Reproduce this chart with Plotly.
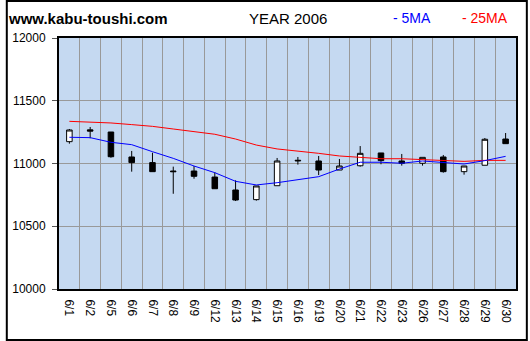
import plotly.graph_objects as go

dates = ["6/1", "6/2", "6/5", "6/6", "6/7", "6/8", "6/9", "6/12", "6/13", "6/14", "6/15",
         "6/16", "6/19", "6/20", "6/21", "6/22", "6/23", "6/26", "6/27", "6/28", "6/29", "6/30"]
opens = [11174, 11268, 11251, 11052, 11007, 10940, 10940, 10892, 10789, 10712, 10823,
         11020, 11020, 10948, 10982, 11084, 11020, 11002, 11052, 10935, 10986, 11195]
highs = [11275, 11291, 11251, 11100, 11086, 10975, 10980, 10930, 10866, 10821, 11044,
         11052, 11060, 11036, 11139, 11084, 11076, 11049, 11068, 10980, 11203, 11243]
lows = [11158, 11201, 11046, 10935, 10935, 10759, 10879, 10799, 10701, 10704, 10823,
        10991, 10908, 10948, 10975, 10994, 10983, 10983, 10927, 10911, 10986, 11158]
closes = [11267, 11258, 11054, 11007, 10935, 10935, 10898, 10799, 10709, 10821, 11020,
          11025, 10948, 10980, 11081, 11023, 11002, 11049, 10935, 10980, 11193, 11158]
ma5 = [11209, 11206, 11169, 11150, 11094, 11041, 10980, 10927, 10858, 10829, 10847,
       10869, 10895, 10956, 11010, 11010, 11002, 11020, 11010, 10996, 11023, 11057]
ma25 = [11336, 11331, 11323, 11310, 11296, 11275, 11257, 11233, 11195, 11147, 11116,
        11100, 11081, 11060, 11049, 11038, 11038, 11033, 11025, 11017, 11025, 11025]
y_ticks = [10000, 10500, 11000, 11500, 12000]

xs = list(range(len(dates)))
W, H = 530, 341
ML, MR, MT, MB = 54, 12, 38, 52
PW, PH = W - ML - MR, H - MT - MB

fig = go.Figure()
fig.add_trace(go.Candlestick(
    x=xs, open=opens, high=highs, low=lows, close=closes,
    increasing=dict(fillcolor="white", line=dict(color="black", width=1)),
    decreasing=dict(fillcolor="black", line=dict(color="black", width=1)),
    whiskerwidth=0, showlegend=False, hoverinfo="skip"))
fig.add_trace(go.Scatter(x=xs, y=ma25, mode="lines", line=dict(color="#FF0000", width=1),
                         showlegend=False, hoverinfo="skip"))
fig.add_trace(go.Scatter(x=xs, y=ma5, mode="lines", line=dict(color="#0000FF", width=1),
                         showlegend=False, hoverinfo="skip"))

def px_x(p):
    return (p - ML) / PW

def px_y(p):
    return (H - MB - p) / PH

font = "Liberation Sans, Arial, sans-serif"
fig.update_layout(
    width=W, height=H,
    margin=dict(l=ML, r=MR, t=MT, b=MB, pad=0),
    paper_bgcolor="white", plot_bgcolor="#C5D9F1",
    boxgap=0.62,
    font=dict(family=font, size=12, color="black"),
    xaxis=dict(
        range=[-0.5, len(dates) - 0.5], tickmode="array", tickvals=xs, ticktext=dates,
        tickangle=90, showgrid=False, ticks="", rangeslider=dict(visible=False),
        showline=True, linecolor="black", linewidth=2, mirror=True, zeroline=False,
        tickfont=dict(size=12), ticklabelstandoff=6,
        minor=dict(tickmode="array", tickvals=[i + 0.5 for i in xs[:-1]],
                   showgrid=True, gridcolor="#999999", gridwidth=1, ticks=""),
    ),
    yaxis=dict(
        range=[10000, 12000], tickmode="array", tickvals=y_ticks,
        ticktext=[str(v) for v in y_ticks], showgrid=True, gridcolor="#999999",
        gridwidth=1, ticks="outside", ticklen=5, tickcolor="#555555",
        showline=True, linecolor="black", linewidth=2, mirror=True, zeroline=False,
        tickfont=dict(size=12), ticklabelstandoff=4,
    ),
    shapes=[dict(type="rect", xref="paper", yref="paper",
                 x0=px_x(1), x1=px_x(W - 1), y0=px_y(H - 1), y1=px_y(1),
                 line=dict(color="black", width=2), fillcolor="rgba(0,0,0,0)")],
    annotations=[
        dict(text="<b>www.kabu-toushi.com</b>", xref="paper", yref="paper",
             x=px_x(0), y=px_y(18), xanchor="left", yanchor="middle", showarrow=False,
             font=dict(size=15, color="black", family=font)),
        dict(text="YEAR 2006", xref="paper", yref="paper",
             x=px_x(245), y=px_y(18), xanchor="left", yanchor="middle", showarrow=False,
             font=dict(size=15, color="black", family=font)),
        dict(text="- 5MA", xref="paper", yref="paper",
             x=px_x(391), y=px_y(18), xanchor="left", yanchor="middle", showarrow=False,
             font=dict(size=14, color="#0000FF", family=font)),
        dict(text="- 25MA", xref="paper", yref="paper",
             x=px_x(461), y=px_y(18), xanchor="left", yanchor="middle", showarrow=False,
             font=dict(size=14, color="#FF0000", family=font)),
    ],
)

fig.write_html("out.html")
